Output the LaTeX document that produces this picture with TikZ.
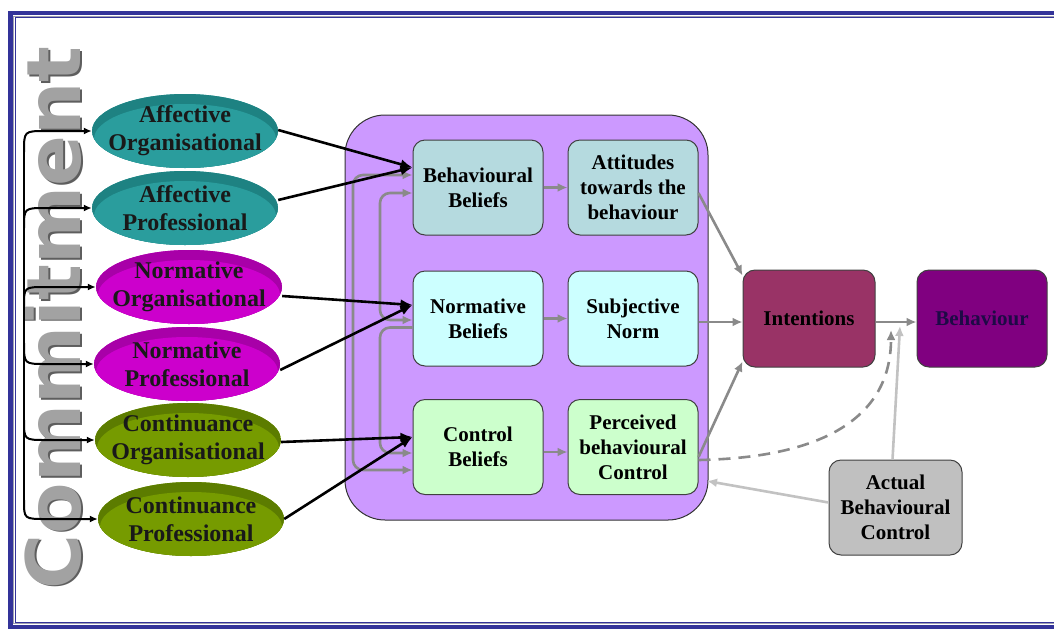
\documentclass[tikz,border=0pt]{standalone}
\usepackage{fontspec}
\setmainfont{Liberation Serif}
\newfontfamily\bannerfont{DejaVu Sans}
\usetikzlibrary{shapes.geometric,arrows.meta,calc}

\definecolor{framebl}{HTML}{333399}
\definecolor{framegr}{HTML}{A0A0B0}
\definecolor{teal1}{HTML}{2A9D9D}
\definecolor{teal2}{HTML}{1E8282}
\definecolor{mag1}{HTML}{CC00CC}
\definecolor{mag2}{HTML}{A800A8}
\definecolor{olive1}{HTML}{769B00}
\definecolor{olive2}{HTML}{5C7C00}
\definecolor{tpbbox}{HTML}{CC99FF}
\definecolor{bbfill}{HTML}{B5DADF}
\definecolor{nbfill}{HTML}{CCFFFF}
\definecolor{cbfill}{HTML}{CCFFCC}
\definecolor{intfill}{HTML}{993366}
\definecolor{behfill}{HTML}{800080}
\definecolor{abcfill}{HTML}{C0C0C0}
\definecolor{arrgray}{HTML}{8A8A8A}
\definecolor{arrlight}{HTML}{C2C2C2}
\definecolor{bannergr}{HTML}{A2A2A2}
\definecolor{bannersh}{HTML}{5E5E5E}

\tikzset{
  disc/.style n args={2}{ellipse, minimum width=186pt, minimum height=74pt,
    inner sep=0pt, fill=#1,
    path picture={
      \fill[#2] (path picture bounding box.north west) rectangle (path picture bounding box.south east);
      \fill[#1] ([yshift=-8pt]path picture bounding box.center) ellipse [x radius=91pt, y radius=35pt];
    }},
  disctext/.style={align=center, inner sep=0pt, text=black!90,
    font=\fontsize{24}{28}\selectfont\bfseries},
  tbox/.style={draw=black!75, line width=1pt, rounded corners=12pt,
    minimum width=130pt, minimum height=95pt, align=center, inner sep=1pt,
    font=\fontsize{21}{25}\selectfont\bfseries, fill=#1},
  banner/.style={rotate=90, inner sep=0pt,
    font=\bannerfont\fontsize{75}{80}\selectfont\bfseries},
  barrow/.style={draw=black, line width=2.6pt, -{Latex[length=12pt,width=10pt]}},
  lk/.style={draw=black, line width=2pt, -{Latex[length=8pt,width=7pt]}},
  trunk/.style={draw=black, line width=2pt},
  garrow/.style={draw=arrgray, line width=2.6pt, -{Latex[length=10pt,width=9pt]}},
  gloop/.style={draw=arrgray, line width=2.6pt, rounded corners=10pt},
  larrow/.style={draw=arrlight, line width=2.6pt, -{Latex[length=10pt,width=9pt]}},
}

\begin{document}
\begin{tikzpicture}[x=1pt,y=-1pt]
\useasboundingbox (0,0) rectangle (1054,630);

% double frame
\draw[framebl, line width=4.5pt] (10.5,13.2) rectangle (1075,626.8);
\draw[framegr, line width=0.9pt] (13.6,16.2) rectangle (1075,623.8);
\draw[framebl, line width=1.1pt] (15.2,17.8) rectangle (1075,622.3);

% vertical banner with a soft drop shadow
\node[banner, text=bannersh] (commitsh) at (54.5,319.5) {Commitment};
\node[banner, text=bannergr] (commit) at (53,318) {Commitment};

% commitment components
\node[disc={teal1}{teal2}]   (ao) at (185,131) {};
\node[disc={teal1}{teal2}]   (ap) at (185,208) {};
\node[disc={mag1}{mag2}]     (no) at (189,287) {};
\node[disc={mag1}{mag2}]     (np) at (187,364) {};
\node[disc={olive1}{olive2}] (co) at (188,440) {};
\node[disc={olive1}{olive2}] (cp) at (191,519) {};
\node[disctext] (aot) at (ao) {Affective\\Organisational};
\node[disctext] (apt) at (ap) {Affective\\Professional};
\node[disctext] (not) at (no) {Normative\\Organisational};
\node[disctext] (npt) at (np) {Normative\\Professional};
\node[disctext] (cot) at (co) {Continuance\\Organisational};
\node[disctext] (cpt) at (cp) {Continuance\\Professional};

% bracket feeding the components
\draw[trunk] (24,150) -- (24,508);
\draw[lk] (24,152) .. controls (24,131) .. (46,131) -- (ao.west);
\draw[lk] (24,228) .. controls (24,208) .. (46,208) -- (ap.west);
\draw[lk] (24,306) .. controls (24,287) .. (46,287) -- (no.west);
\draw[lk] (24,343) .. controls (24,364) .. (46,364) -- (np.west);
\draw[lk] (24,420) .. controls (24,440) .. (46,440) -- (co.west);
\draw[lk] (24,500) .. controls (24,519) .. (46,519) -- (cp.west);

% theory of planned behaviour block
\node[draw=black!80, line width=1pt, fill=tpbbox, rounded corners=40pt,
      minimum width=363pt, minimum height=405pt, inner sep=0pt] (tpb) at (526.5,317.5) {};

\node[tbox=bbfill] (bb)  at (478,187.5) {Behavioural\\Beliefs};
\node[tbox=bbfill] (att) at (633,187.5) {Attitudes\\towards the\\behaviour};
\node[tbox=nbfill] (nb)  at (478,318.5) {Normative\\Beliefs};
\node[tbox=nbfill] (sn)  at (633,318.5) {Subjective\\Norm};
\node[tbox=cbfill] (cb)  at (478,447)   {Control\\Beliefs};
\node[tbox=cbfill] (pbc) at (633,447)   {Perceived\\behavioural\\Control};

\node[tbox=intfill, minimum width=132pt, minimum height=97pt] (int) at (809,318.5) {Intentions};
\node[tbox=behfill, minimum width=130pt, minimum height=97pt, text={rgb,255:red,30;green,10;blue,70}] (beh) at (982,318.5) {Behaviour};
\node[tbox=abcfill, minimum width=133pt, minimum height=95pt] (abc) at (895.5,507.5) {Actual\\Behavioural\\Control};

% correlations between the belief boxes
\draw[gloop, {Latex[length=10pt,width=9pt]}-{Latex[length=10pt,width=9pt]}]
  ($(bb.west)+(0,-12.5)$) -| (353,470) -- ($(cb.west)+(0,23)$);
\draw[gloop, {Latex[length=10pt,width=9pt]}-{Latex[length=10pt,width=9pt]}]
  ($(bb.west)+(0,5.5)$) -| (380,320) -- ($(nb.west)+(0,1.5)$);
\draw[gloop, -{Latex[length=10pt,width=9pt]}]
  ($(nb.west)+(0,9)$) -| (380,453) -- ($(cb.west)+(0,6)$);

% components to beliefs
\draw[barrow] ($(ao.east)+(0,-1)$) -- ($(bb.west)+(0,-20)$);
\draw[barrow] ($(ap.east)+(0,-8)$) -- ($(bb.west)+(0,-20)$);
\draw[barrow] ($(no.east)+(0,9)$)  -- ($(nb.west)+(0,-13.5)$);
\draw[barrow] ($(np.east)+(0,6)$)  -- ($(nb.west)+(0,-13.5)$);
\draw[barrow] ($(co.east)+(0,2)$)  -- ($(cb.west)+(0,-10)$);
\draw[barrow] (cp.east) -- ($(cb.west)+(0,-10)$);

% beliefs to attitudes, norm and perceived control
\draw[garrow] (bb) -- (att);
\draw[garrow] (nb) -- (sn);
\draw[garrow] ($(cb.east)+(0,5)$) -- ($(pbc.west)+(0,5)$);

% into intentions
\draw[garrow] ($(att.east)+(0,5.5)$) -- ($(int.north west)+(0,6)$);
\draw[garrow] ($(sn.east)+(0,3.5)$) -- ($(int.west)+(0,3.5)$);
\draw[garrow] ($(pbc.east)+(0,10)$) -- ($(int.south west)+(0,-6)$);

% intentions to behaviour, moderated by actual control
\coordinate (jdash) at (891,330);
\coordinate (jabc) at (900,326);
\coordinate (pbcin) at (707,481);
\draw[garrow] ($(int.east)+(0,3.5)$) -- ($(beh.west)+(0,3.5)$);
\draw[draw=arrgray, line width=2.6pt, dash pattern=on 12pt off 8pt, -{Latex[length=10pt,width=9pt]}]
  ($(pbc.east)+(0,13)$) .. controls (810,458) and (891,425) .. (jdash);
\draw[larrow] ($(abc.north)+(-3,0)$) -- (jabc);
\draw[larrow] ($(abc.west)+(0,-5)$) -- (pbcin);
\end{tikzpicture}
\end{document}
